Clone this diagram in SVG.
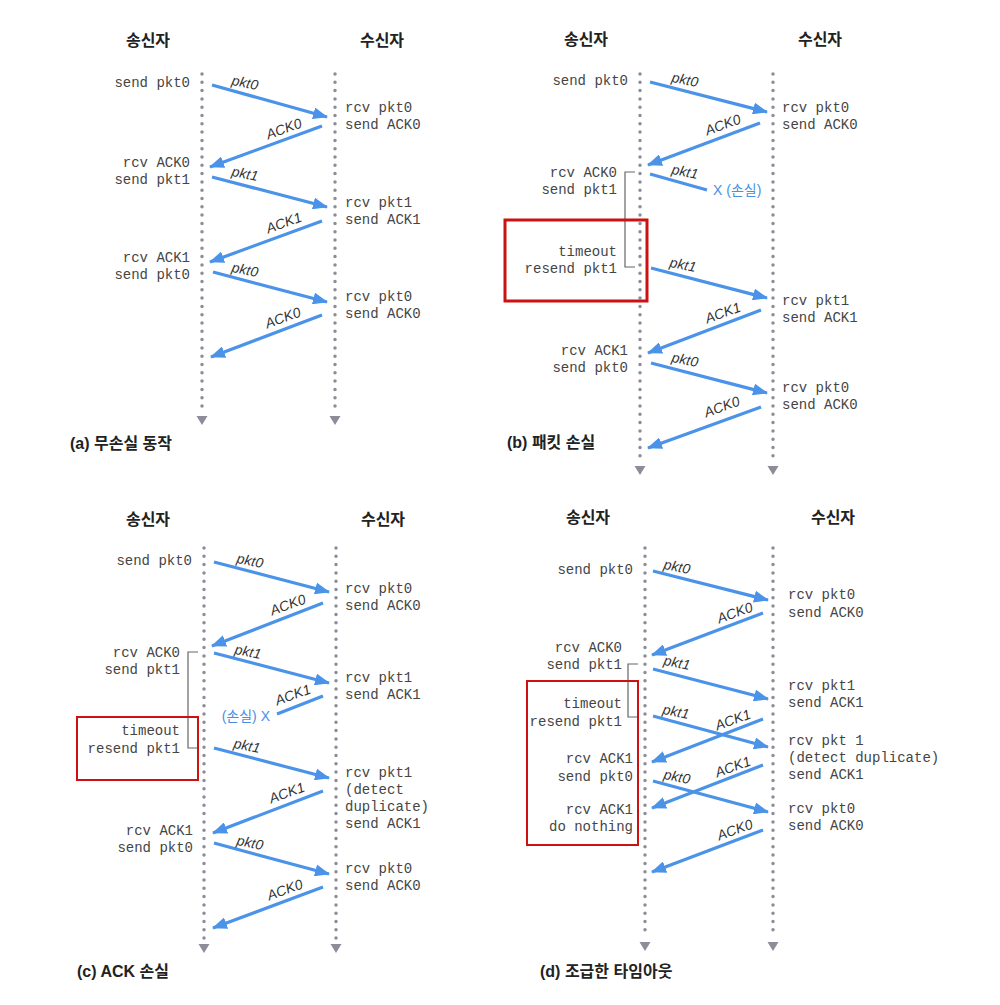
<svg xmlns="http://www.w3.org/2000/svg" width="1000" height="1005" viewBox="0 0 1000 1005">
<style>
.m{font-family:"Liberation Mono",monospace;font-size:14px;fill:#454545}
.r{text-anchor:end}
.lbl{font-family:"Liberation Sans",Arial,sans-serif;font-style:italic;font-size:14px;fill:#333;text-anchor:middle}
.hdr{font-family:"Noto Sans CJK KR",sans-serif;font-weight:bold;font-size:16px;fill:#222;text-anchor:middle}
.ttl{font-family:"Liberation Sans","Noto Sans CJK KR",sans-serif;font-weight:bold;font-size:16px;fill:#222}
.loss{font-family:"Liberation Sans","Noto Sans CJK KR",sans-serif;font-size:14px;fill:#4a90e2}
.arr{stroke:#4b93e8;stroke-width:3.2;fill:none;marker-end:url(#ah)}
.lost{stroke:#4b93e8;stroke-width:3.2;fill:none}
.life{stroke:#8d8d99;stroke-width:3.5;stroke-dasharray:0 8.3;stroke-linecap:round}
.tri{fill:#8d8d99}
.br{stroke:#666;stroke-width:1.2;fill:none}
.box{stroke:#cc1111;fill:none}
</style>
<defs>
<marker id="ah" markerUnits="userSpaceOnUse" markerWidth="15" markerHeight="12" refX="14" refY="6" orient="auto">
<path d="M0,0 L15,6 L0,12 z" fill="#4b93e8"/>
</marker>
</defs>
<rect width="1000" height="1005" fill="#fff"/>

<!-- Panel a -->
<g id="panel-a">
<g id="a-sender"><text class="hdr" x="148" y="46">송신자</text><line class="life" x1="202" y1="74" x2="202" y2="412"/><polygon class="tri" points="196.5,416 207.5,416 202,425"/></g>
<g id="a-receiver"><text class="hdr" x="382" y="46">수신자</text><line class="life" x1="335" y1="74" x2="335" y2="412"/><polygon class="tri" points="329.5,416 340.5,416 335,425"/></g>
<g id="a-sender-events">
<text class="m r" x="190" y="87">send pkt0</text>
<text class="m r" x="190" y="167">rcv ACK0</text>
<text class="m r" x="190" y="184">send pkt1</text>
<text class="m r" x="190" y="262">rcv ACK1</text>
<text class="m r" x="190" y="279">send pkt0</text>
</g>
<g id="a-receiver-events">
<text class="m" x="345" y="112">rcv pkt0</text><text class="m" x="345" y="129">send ACK0</text>
<text class="m" x="345" y="207">rcv pkt1</text><text class="m" x="345" y="224">send ACK1</text>
<text class="m" x="345" y="301">rcv pkt0</text><text class="m" x="345" y="318">send ACK0</text>
</g>
<text class="ttl" x="70" y="449">(a) 무손실 동작</text>
</g>

<!-- Panel b -->
<g id="panel-b">
<g id="b-sender"><text class="hdr" x="586" y="45">송신자</text><line class="life" x1="640" y1="74" x2="640" y2="462"/><polygon class="tri" points="634.5,466 645.5,466 640,475"/></g>
<g id="b-receiver"><text class="hdr" x="820" y="45">수신자</text><line class="life" x1="773" y1="74" x2="773" y2="462"/><polygon class="tri" points="767.5,466 778.5,466 773,475"/></g>
<g id="b-sender-events">
<text class="m r" x="628" y="85">send pkt0</text>
<text class="m r" x="617" y="177">rcv ACK0</text>
<text class="m r" x="617" y="194">send pkt1</text>
<text class="m r" x="617" y="256">timeout</text>
<text class="m r" x="617" y="273">resend pkt1</text>
<text class="m r" x="628" y="355">rcv ACK1</text>
<text class="m r" x="628" y="372">send pkt0</text>
<path class="br" d="M635,172 H625 V267 H635"/>
<rect class="box" x="505" y="220" width="142" height="81" stroke-width="3"/>
</g>
<g id="b-receiver-events">
<text class="m" x="782" y="112">rcv pkt0</text><text class="m" x="782" y="129">send ACK0</text>
<text class="m" x="782" y="305">rcv pkt1</text><text class="m" x="782" y="322">send ACK1</text>
<text class="m" x="782" y="392">rcv pkt0</text><text class="m" x="782" y="409">send ACK0</text>
</g>
<text class="ttl" x="507" y="448">(b) 패킷 손실</text>
</g>

<!-- Panel c -->
<g id="panel-c">
<g id="c-sender"><text class="hdr" x="148" y="525">송신자</text><line class="life" x1="204" y1="548" x2="204" y2="940"/><polygon class="tri" points="198.5,944 209.5,944 204,953"/></g>
<g id="c-receiver"><text class="hdr" x="383" y="525">수신자</text><line class="life" x1="336" y1="548" x2="336" y2="940"/><polygon class="tri" points="330.5,944 341.5,944 336,953"/></g>
<g id="c-sender-events">
<text class="m r" x="192" y="565">send pkt0</text>
<text class="m r" x="180" y="657">rcv ACK0</text>
<text class="m r" x="180" y="674">send pkt1</text>
<text class="m r" x="180" y="735">timeout</text>
<text class="m r" x="180" y="753">resend pkt1</text>
<text class="m r" x="193" y="835">rcv ACK1</text>
<text class="m r" x="193" y="852">send pkt0</text>
<path class="br" d="M198,652 H188 V748 H198"/>
<rect class="box" x="77" y="717" width="121" height="63" stroke-width="2"/>
</g>
<g id="c-receiver-events">
<text class="m" x="345" y="593">rcv pkt0</text><text class="m" x="345" y="610">send ACK0</text>
<text class="m" x="345" y="682">rcv pkt1</text><text class="m" x="345" y="699">send ACK1</text>
<text class="m" x="345" y="777">rcv pkt1</text><text class="m" x="345" y="794">(detect</text><text class="m" x="345" y="811">duplicate)</text><text class="m" x="345" y="828">send ACK1</text>
<text class="m" x="345" y="873">rcv pkt0</text><text class="m" x="345" y="890">send ACK0</text>
</g>
<text class="ttl" x="77" y="977">(c) ACK 손실</text>
</g>

<!-- Panel d -->
<g id="panel-d">
<g id="d-sender"><text class="hdr" x="588" y="523">송신자</text><line class="life" x1="645" y1="548" x2="645" y2="938"/><polygon class="tri" points="639.5,942 650.5,942 645,951"/></g>
<g id="d-receiver"><text class="hdr" x="833" y="523">수신자</text><line class="life" x1="773" y1="548" x2="773" y2="938"/><polygon class="tri" points="767.5,942 778.5,942 773,951"/></g>
<g id="d-sender-events">
<text class="m r" x="633" y="574">send pkt0</text>
<text class="m r" x="622" y="652">rcv ACK0</text>
<text class="m r" x="622" y="669">send pkt1</text>
<text class="m r" x="622" y="708">timeout</text>
<text class="m r" x="622" y="726">resend pkt1</text>
<text class="m r" x="633" y="763">rcv ACK1</text>
<text class="m r" x="633" y="781">send pkt0</text>
<text class="m r" x="633" y="814">rcv ACK1</text>
<text class="m r" x="633" y="831">do nothing</text>
<path class="br" d="M638,664 H628 V717 H638"/>
<rect class="box" x="527" y="681" width="111" height="164" stroke-width="2"/>
</g>
<g id="d-receiver-events">
<text class="m" x="788" y="599">rcv pkt0</text><text class="m" x="788" y="617">send ACK0</text>
<text class="m" x="788" y="690">rcv pkt1</text><text class="m" x="788" y="707">send ACK1</text>
<text class="m" x="788" y="745">rcv pkt 1</text><text class="m" x="788" y="762">(detect duplicate)</text><text class="m" x="788" y="779">send ACK1</text>
<text class="m" x="788" y="813">rcv pkt0</text><text class="m" x="788" y="830">send ACK0</text>
</g>
<text class="ttl" x="540" y="977">(d) 조급한 타임아웃</text>
</g>

<!-- Connectors -->
<g id="connectors">
<line class="arr" x1="212" y1="85" x2="327" y2="117"/>
<line class="arr" x1="322" y1="126" x2="210" y2="167"/>
<line class="arr" x1="212" y1="177" x2="327" y2="207"/>
<line class="arr" x1="322" y1="221" x2="210" y2="262"/>
<line class="arr" x1="213" y1="272" x2="327" y2="302"/>
<line class="arr" x1="322" y1="315" x2="211" y2="357"/>

<line class="arr" x1="650" y1="82" x2="767" y2="112"/>
<line class="arr" x1="760" y1="123" x2="648" y2="165"/>
<line class="lost" x1="650" y1="174" x2="707" y2="190"/>
<line class="arr" x1="651" y1="268" x2="767" y2="298"/>
<line class="arr" x1="761" y1="310" x2="648" y2="353"/>
<line class="arr" x1="651" y1="363" x2="767" y2="393"/>
<line class="arr" x1="761" y1="407" x2="648" y2="448"/>

<line class="arr" x1="214" y1="562" x2="329" y2="592"/>
<line class="arr" x1="323" y1="603" x2="212" y2="646"/>
<line class="arr" x1="214" y1="653" x2="329" y2="683"/>
<line class="lost" x1="323" y1="696" x2="277" y2="714"/>
<line class="arr" x1="214" y1="748" x2="329" y2="778"/>
<line class="arr" x1="323" y1="791" x2="213" y2="833"/>
<line class="arr" x1="214" y1="843" x2="329" y2="874"/>
<line class="arr" x1="323" y1="887" x2="213" y2="928"/>

<line class="arr" x1="653" y1="571" x2="768" y2="600"/>
<line class="arr" x1="763" y1="613" x2="652" y2="655"/>
<line class="arr" x1="653" y1="669" x2="768" y2="699"/>
<line class="arr" x1="653" y1="716" x2="768" y2="747"/>
<line class="arr" x1="763" y1="719" x2="652" y2="762"/>
<line class="arr" x1="763" y1="765" x2="652" y2="808"/>
<line class="arr" x1="653" y1="781" x2="768" y2="812"/>
<line class="arr" x1="763" y1="830" x2="652" y2="872"/>

<g id="connector-labels">
<text class="lbl" x="245" y="87.5" transform="rotate(12 245 83)">pkt0</text>
<text class="lbl" x="284" y="133.5" transform="rotate(-20 284 129)">ACK0</text>
<text class="lbl" x="245" y="178.5" transform="rotate(12 245 174)">pkt1</text>
<text class="lbl" x="284" y="227.5" transform="rotate(-20 284 223)">ACK1</text>
<text class="lbl" x="245" y="274.5" transform="rotate(12 245 270)">pkt0</text>
<text class="lbl" x="283" y="322.5" transform="rotate(-20 283 318)">ACK0</text>

<text class="lbl" x="685" y="84.5" transform="rotate(12 685 80)">pkt0</text>
<text class="lbl" x="723" y="129.5" transform="rotate(-20 723 125)">ACK0</text>
<text class="lbl" x="685" y="176.5" transform="rotate(12 685 172)">pkt1</text>
<text class="loss" x="713" y="195">X (손실)</text>
<text class="lbl" x="683" y="269.5" transform="rotate(12 683 265)">pkt1</text>
<text class="lbl" x="723" y="317.5" transform="rotate(-20 723 313)">ACK1</text>
<text class="lbl" x="685" y="364.5" transform="rotate(12 685 360)">pkt0</text>
<text class="lbl" x="722" y="411.5" transform="rotate(-20 722 407)">ACK0</text>

<text class="lbl" x="250" y="565.5" transform="rotate(12 250 561)">pkt0</text>
<text class="lbl" x="288" y="609.5" transform="rotate(-20 288 605)">ACK0</text>
<text class="lbl" x="248" y="656.5" transform="rotate(12 248 652)">pkt1</text>
<text class="lbl" x="293" y="699.5" transform="rotate(-20 293 695)">ACK1</text>
<text class="loss" x="270" y="721" text-anchor="end">(손실) X</text>
<text class="lbl" x="247" y="750.5" transform="rotate(12 247 746)">pkt1</text>
<text class="lbl" x="287" y="797.5" transform="rotate(-20 287 793)">ACK1</text>
<text class="lbl" x="250" y="847.5" transform="rotate(12 250 843)">pkt0</text>
<text class="lbl" x="285" y="894.5" transform="rotate(-20 285 890)">ACK0</text>

<text class="lbl" x="677" y="571.5" transform="rotate(12 677 567)">pkt0</text>
<text class="lbl" x="735" y="617.5" transform="rotate(-20 735 613)">ACK0</text>
<text class="lbl" x="677" y="667.5" transform="rotate(12 677 663)">pkt1</text>
<text class="lbl" x="676" y="716.5" transform="rotate(12 676 712)">pkt1</text>
<text class="lbl" x="733" y="724.5" transform="rotate(-20 733 720)">ACK1</text>
<text class="lbl" x="733" y="771.5" transform="rotate(-20 733 767)">ACK1</text>
<text class="lbl" x="677" y="781.5" transform="rotate(12 677 777)">pkt0</text>
<text class="lbl" x="735" y="834.5" transform="rotate(-20 735 830)">ACK0</text>
</g>
</g>
</svg>
